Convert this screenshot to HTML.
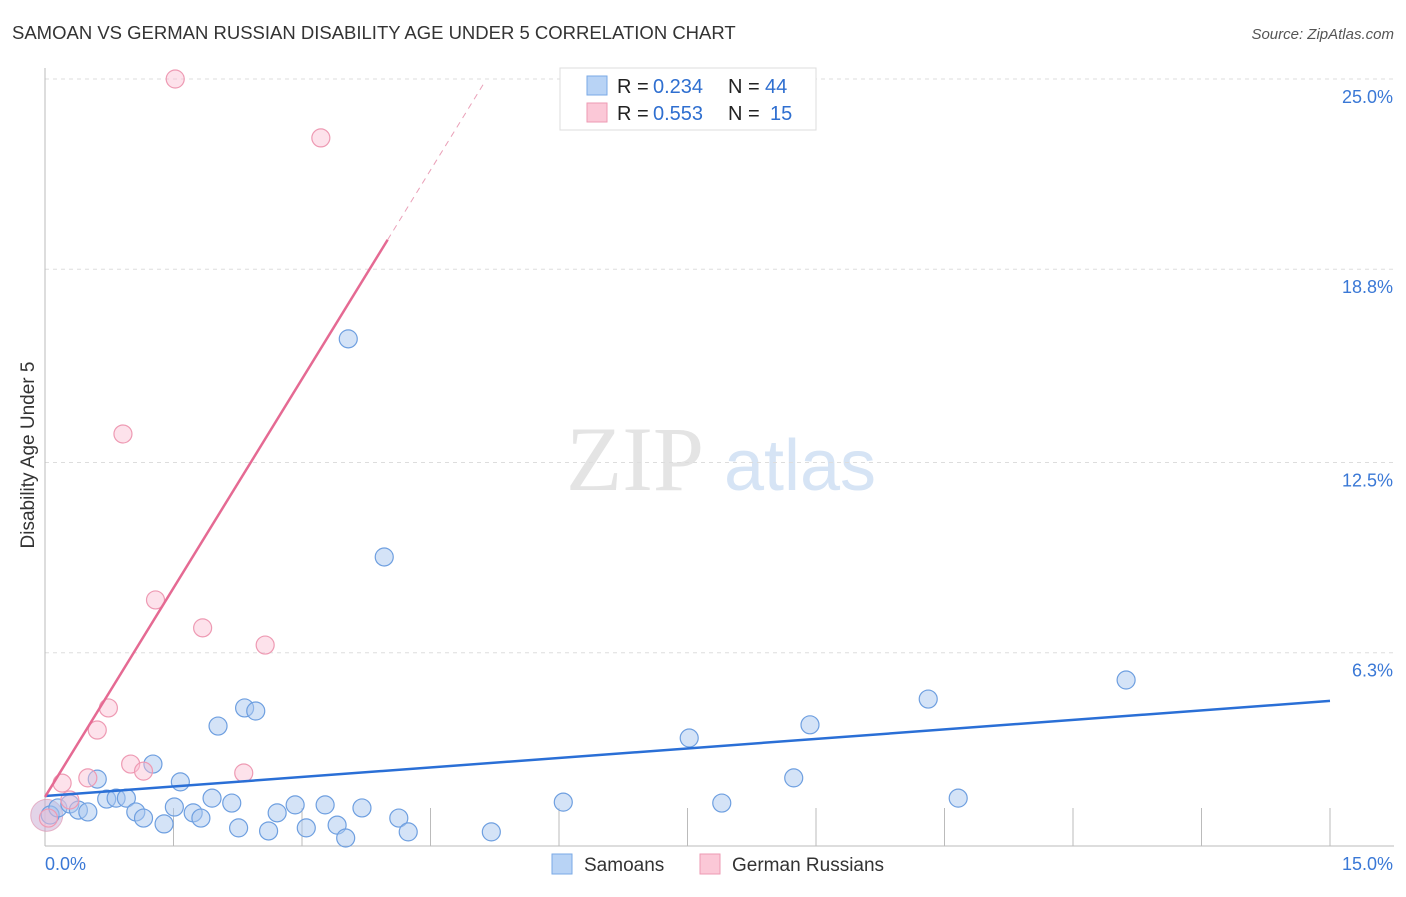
<!DOCTYPE html>
<html><head><meta charset="utf-8"><style>
body{margin:0;background:#fff;font-family:"Liberation Sans",sans-serif}
</style></head><body>
<svg width="1406" height="892" xmlns="http://www.w3.org/2000/svg" font-family="Liberation Sans, sans-serif">
<text x="12" y="39" font-size="18.5" fill="#333">SAMOAN VS GERMAN RUSSIAN DISABILITY AGE UNDER 5 CORRELATION CHART</text>
<text x="1394" y="39" font-size="15" fill="#555" text-anchor="end" font-style="italic">Source: ZipAtlas.com</text>
<text x="34" y="455" font-size="19" fill="#333" text-anchor="middle" transform="rotate(-90 34 455)">Disability Age Under 5</text>
<g><text x="635" y="490" font-size="92" fill="#e4e4e4" font-family="Liberation Serif, serif" text-anchor="middle">ZIP</text><text x="800" y="490" font-size="72" fill="#d6e4f5" text-anchor="middle">atlas</text></g>
<g id="grid"></g><g id="axes"></g><g id="marks"></g>
<g>
<rect x="560" y="68" width="256" height="62" fill="#fff" stroke="#ddd"/>
<rect x="587" y="76" width="20" height="19" fill="#b8d3f5" stroke="#7aa9e6"/>
<rect x="587" y="103" width="20" height="19" fill="#fbc8d7" stroke="#ee9ab3"/>
<text x="617" y="93" font-size="20" fill="#222">R =</text><text x="653" y="93" font-size="20" fill="#2f6fd0">0.234</text>
<text x="728" y="93" font-size="20" fill="#222">N =</text><text x="765" y="93" font-size="20" fill="#2f6fd0">44</text>
<text x="617" y="120" font-size="20" fill="#222">R =</text><text x="653" y="120" font-size="20" fill="#2f6fd0">0.553</text>
<text x="728" y="120" font-size="20" fill="#222">N =</text><text x="770" y="120" font-size="20" fill="#2f6fd0">15</text>
</g>
<g>
<rect x="552" y="854" width="20" height="20" fill="#b8d3f5" stroke="#7aa9e6"/><text x="584" y="871" font-size="19" fill="#333">Samoans</text>
<rect x="700" y="854" width="20" height="20" fill="#fbc8d7" stroke="#ee9ab3"/><text x="732" y="871" font-size="19" fill="#333">German Russians</text>
</g>
</svg>
<script>
const samoanX=[0.06,0.15,0.29,0.39,0.50,0.61,0.72,0.83,0.95,1.06,1.15,1.26,1.39,1.51,1.58,1.73,1.82,1.95,2.02,2.18,2.26,2.33,2.46,2.61,2.71,2.92,3.05,3.27,3.41,3.51,3.54,3.70,3.96,4.13,4.24,5.21,6.05,7.52,7.90,8.74,8.93,10.31,10.66,12.62];
const samoanY=[1.01,1.24,1.37,1.17,1.11,2.18,1.53,1.56,1.56,1.11,0.91,2.67,0.72,1.27,2.09,1.08,0.91,1.56,3.91,1.40,0.59,4.50,4.40,0.49,1.08,1.34,0.59,1.34,0.68,0.26,16.53,1.24,9.42,0.91,0.46,0.46,1.43,3.52,1.40,2.22,3.95,4.79,1.56,5.41];
const grX=[0.04,0.20,0.29,0.50,0.61,0.74,0.91,1.00,1.15,1.29,1.52,1.84,2.32,2.57,3.22];
const grY=[0.91,2.05,1.50,2.22,3.78,4.50,13.43,2.67,2.44,8.02,25.0,7.11,2.38,6.55,23.08];
const yTicks=[6.3,12.5,18.8,25.0];
const yTickLabels=["6.3%","12.5%","18.8%","25.0%"];
const xTickLabels=["0.0%","15.0%"];
const samoanTrend=[1.63,4.73];
const grTrend=[1.6,4.54];
const X=v=>45+v/15*1285, Y=v=>846-v/25*767;
const NS="http://www.w3.org/2000/svg";
function mk(p,t,a){const e=document.createElementNS(NS,t);for(const k in a)e.setAttribute(k,a[k]);p.appendChild(e);return e;}
const grid=document.getElementById('grid'),axes=document.getElementById('axes'),marks=document.getElementById('marks');
yTicks.forEach((t,i)=>{
 const l=mk(grid,'line',{x1:45,x2:1394,y1:Y(t),y2:Y(t),stroke:'#ddd','stroke-dasharray':'4,4'});
 
 
 const tx=mk(axes,'text',{x:1393,y:Y(t)+24,'font-size':18,fill:'#3a78d6','text-anchor':'end'});tx.textContent=yTickLabels[i];
 
 
});
mk(axes,'line',{x1:45,x2:45,y1:68,y2:846,stroke:'#bbb'});
mk(axes,'line',{x1:45,x2:1394,y1:846,y2:846,stroke:'#bbb'});
for(let i=1;i<=10;i++){const tk=mk(axes,'line',{x1:X(i*1.5),x2:X(i*1.5),y1:808,y2:846,stroke:'#bbb'});
 
 }
const xl0=mk(axes,'text',{x:45,y:870,'font-size':18,fill:'#3a78d6'});xl0.textContent=xTickLabels[0];


const xl1=mk(axes,'text',{x:1393,y:870,'font-size':18,fill:'#3a78d6','text-anchor':'end'});xl1.textContent=xTickLabels[1];


mk(marks,'circle',{cx:X(0.02),cy:Y(1.0),r:16,fill:'rgba(200,170,210,0.5)',stroke:'rgba(220,140,170,0.6)'});
samoanX.forEach((x,i)=>{const c=mk(marks,'circle',{cx:X(x),cy:Y(samoanY[i]),r:9,fill:'rgba(170,200,240,0.5)',stroke:'#6e9fe0','stroke-width':1.2});
 
 });
grX.forEach((x,i)=>{const c=mk(marks,'circle',{cx:X(x),cy:Y(grY[i]),r:9,fill:'rgba(250,190,210,0.45)',stroke:'#ee9ab3','stroke-width':1.2});
 
 });
const bt=mk(marks,'line',{x1:X(0),y1:Y(samoanTrend[0]),x2:X(15),y2:Y(samoanTrend[1]),stroke:'#2a6fd6','stroke-width':2.5});


const pt=mk(marks,'line',{x1:X(0),y1:Y(grTrend[0]),x2:X(4.0),y2:Y(grTrend[0]+grTrend[1]*4.0),stroke:'#e56a93','stroke-width':2.5});


const pd=mk(marks,'line',{x1:X(4.0),y1:Y(grTrend[0]+grTrend[1]*4.0),x2:X(5.14),y2:Y(grTrend[0]+grTrend[1]*5.14),stroke:'#eaa0b8','stroke-width':1,'stroke-dasharray':'6,5'});


</script>
</body></html>
